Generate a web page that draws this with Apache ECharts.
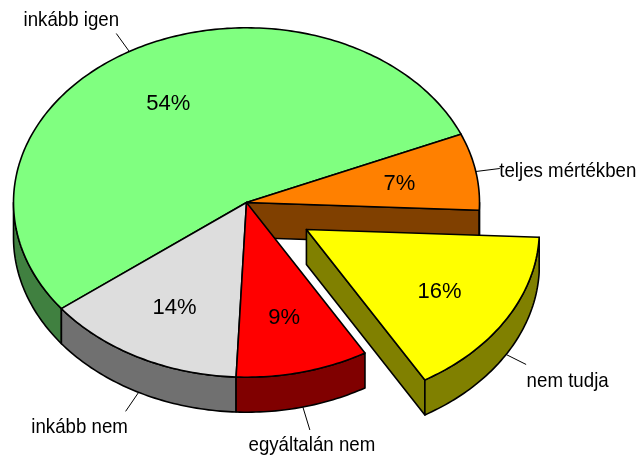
<!DOCTYPE html>
<html>
<head>
<meta charset="utf-8">
<style>html,body{margin:0;padding:0;background:#fff}#c{width:640px;height:459px}</style>
<script src="https://cdn.jsdelivr.net/npm/echarts@6/dist/echarts.min.js"></script>
</head>
<body>
<div id="c"></div>
<script>
// data, clockwise from the first slice (labels show them rounded)
const categories = ['teljes mértékben', 'nem tudja', 'egyáltalán nem', 'inkább nem', 'inkább igen'];
const percents = [7.1, 15.8, 9.2, 13.9, 54];
const explode = [0, 0.3, 0, 0, 0];

// colours and stacking
const topColors = ['#FF8000', '#FFFF00', '#FF0000', '#DDDDDD', '#80FF80'];
const sideColors = ['#804000', '#808000', '#800000', '#707070', '#408040'];
const drawRank = [1, 4, 3, 2, 0];

// layout of the tilted pie
const CX = 246.5, CY = 202.5, RX = 233, RY = 174.7, DEPTH = 35, START = 23;
const LABEL_R = 0.667, PCT_DY = 2.5;
// leader end relative to its start, then label centre relative to the leader end
const leaders = [[24, -3, 68, 3], [20, 10, 41.5, 16.5], [7, 23, 2, 15], [-13, 19, -46, 15.5], [-13, -18, -45, -13]];

const D = Math.PI / 180;
const sum = percents.reduce((a, b) => a + b, 0);
function sliceAngles(i) {
  let a = START;
  for (let k = 0; k < i; k++) a -= percents[k] / sum * 360;
  return [a, a - percents[i] / sum * 360];
}
function renderItem(params, api) {
  const i = params.dataIndex;
  const [a0, a1] = sliceAngles(i);
  const mid = (a0 + a1) / 2;
  const ox = CX + explode[i] * RX * Math.cos(mid * D);
  const oy = CY + explode[i] * RY * Math.sin(-mid * D);
  const pt = (a, dz) => [ox + RX * Math.cos(a * D), oy - RY * Math.sin(a * D) + (dz || 0)];
  const arc = (from, to, dz) => {
    const n = Math.max(1, Math.ceil(Math.abs(from - to)));
    const out = [];
    for (let k = 0; k <= n; k++) out.push(pt(from + (to - from) * k / n, dz));
    return out;
  };
  const z = drawRank[i] * 10;
  const stroke = { stroke: '#000', lineWidth: 1.6, lineJoin: 'round' };
  const children = [];
  // end cut face
  if (Math.cos(a1 * D) > 0) {
    children.push({ type: 'polygon', z2: z,
      shape: { points: [[ox, oy], pt(a1), pt(a1, DEPTH), [ox, oy + DEPTH]] },
      style: Object.assign({ fill: sideColors[i] }, stroke) });
  }
  // outer wall: only the part facing the viewer
  const w0 = Math.min(a0, 0), w1 = Math.max(a1, -180);
  if (w0 > w1) {
    children.push({ type: 'polygon', z2: z + 1,
      shape: { points: arc(w0, w1, 0).concat(arc(w1, w0, DEPTH)) },
      style: Object.assign({ fill: sideColors[i] }, stroke) });
  }
  // top
  children.push({ type: 'polygon', z2: z + 2,
    shape: { points: [[ox, oy]].concat(arc(a0, a1, 0)) },
    style: Object.assign({ fill: topColors[i] }, stroke) });
  // percent
  children.push({ type: 'text', z2: 200,
    x: ox + LABEL_R * RX * Math.cos(mid * D),
    y: oy - LABEL_R * RY * Math.sin(mid * D) + PCT_DY,
    style: { text: Math.round(api.value(1)) + '%', fill: '#000', align: 'center', verticalAlign: 'middle',
      font: '22px "Liberation Sans"' } });
  // leader + category label
  const wallDz = Math.sin(mid * D) < 0 ? DEPTH : 0;
  const s = pt(mid, wallDz);
  const L = leaders[i];
  children.push({ type: 'line', z2: 150,
    shape: { x1: s[0], y1: s[1], x2: s[0] + L[0], y2: s[1] + L[1] },
    style: { stroke: '#000', lineWidth: 1 } });
  children.push({ type: 'text', z2: 200,
    x: s[0] + L[0] + L[2], y: s[1] + L[1] + L[3], scaleX: 0.89,
    style: { text: categories[i], fill: '#000', align: 'center', verticalAlign: 'middle',
      font: '21px "Liberation Sans"' } });
  return { type: 'group', children };
}
const chart = echarts.init(document.getElementById('c'), null, { renderer: 'canvas' });
chart.setOption({
  animation: false,
  backgroundColor: '#fff',
  series: [{
    type: 'custom',
    coordinateSystem: 'none',
    silent: true,
    renderItem,
    data: categories.map((c, i) => [c, percents[i]])
  }]
});
</script>
</body>
</html>
